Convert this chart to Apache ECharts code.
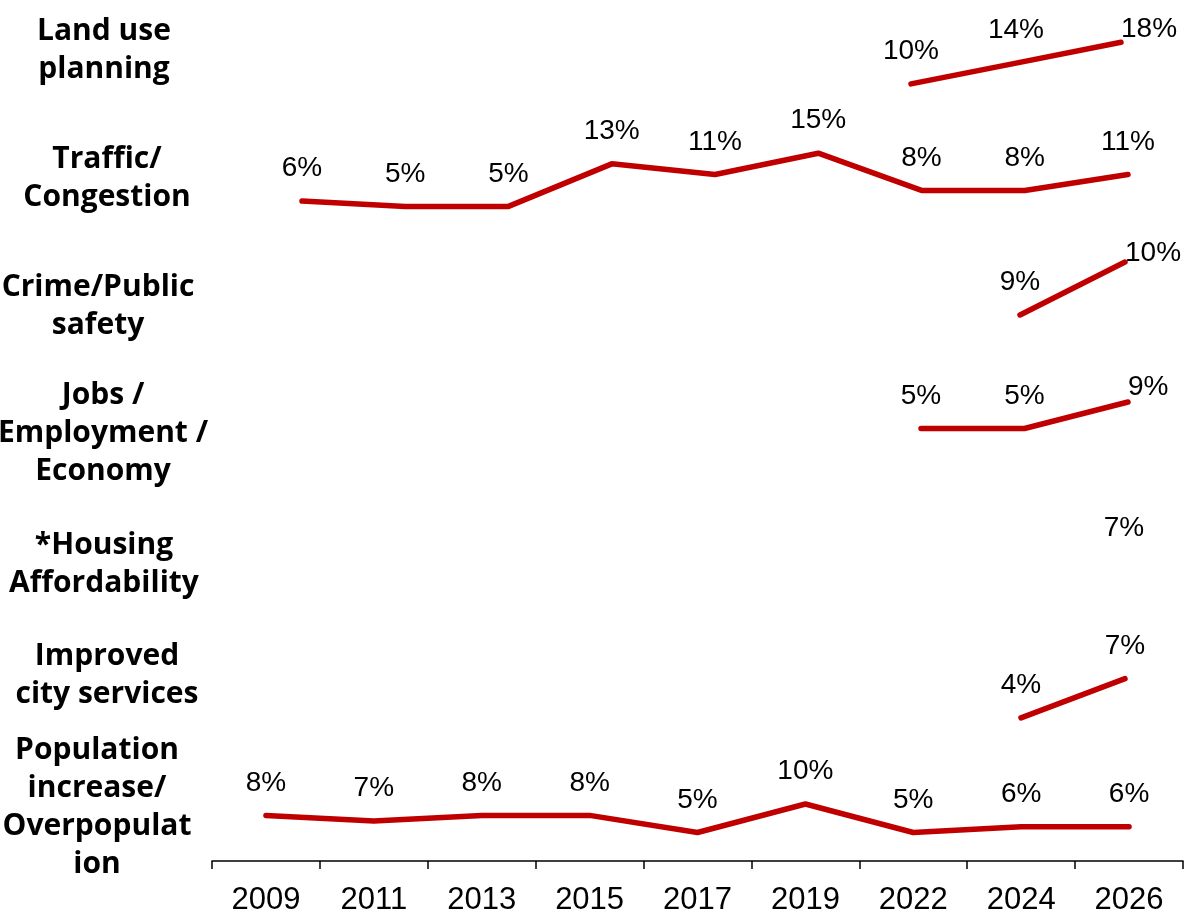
<!DOCTYPE html>
<html>
<head>
<meta charset="utf-8">
<title>Most important issues over time</title>
<script src="https://cdn.jsdelivr.net/npm/echarts@6/dist/echarts.min.js"></script>
<style>
  html, body { margin: 0; padding: 0; background: #fff; }
  #chart { width: 1191px; height: 916px; }
</style>
</head>
<body>
<div id="chart"></div>
<script>
// Survey years shown on the shared bottom axis
const years = ['2009', '2011', '2013', '2015', '2017', '2019', '2022', '2024', '2026'];

// Share of mentions (%) per issue; null where the issue was not asked
const landUse    = [null, null, null, null, null, null, 10, 14, 18];
const traffic    = [6, 5, 5, 13, 11, 15, 8, 8, 11];
const crime      = [null, null, null, null, null, null, null, 9, 10];
const jobs       = [null, null, null, null, null, null, 5, 5, 9];
const housing    = [null, null, null, null, null, null, null, null, 7];
const improved   = [null, null, null, null, null, null, null, 4, 7];
const population = [8, 7, 8, 8, 5, 10, 5, 6, 6];

// Row captions (left column)
const rowNames = [
  'Land use\nplanning',
  'Traffic/\nCongestion',
  'Crime/Public\nsafety',
  'Jobs /\nEmployment /\nEconomy',
  '*Housing\nAffordability',
  'Improved\ncity services',
  'Population\nincrease/\nOverpopulat\nion'
];

const seriesData = [landUse, traffic, crime, jobs, housing, improved, population];

// Each row is its own little panel with its own value scale
const panels = [
  { grid: { left: 281, right: 70, top: 11,    height: 125 }, yMin: 0,   yMax: 24,   cap: [104, 50.5] },
  { grid: { left: 302, right: 63, top: 100,   height: 133 }, yMin: 0,   yMax: 25,   cap: [107, 178] },
  { grid: { left: 285, right: 66, top: 235.5, height: 106 }, yMin: 8.5, yMax: 10.5, cap: [98, 306] },
  { grid: { left: 300, right: 63, top: 369,   height: 92.5 }, yMin: 0,  yMax: 14,   cap: [103, 433] },
  { grid: { left: 292, right: 67, top: 505,   height: 126 }, yMin: 0,   yMax: 12.6, cap: [104, 564] },
  { grid: { left: 293, right: 66, top: 620,   height: 150 }, yMin: 0,   yMax: 11.5, cap: [107, 675] },
  { grid: { left: 212, right: 8,  top: 747,   height: 116 }, yMin: 0,   yMax: 20,   cap: [97, 807.5], axis: true }
];

const RED = '#C00000';
const LABEL_FONT = 'Liberation Sans, Arial, sans-serif';

const grids = [], xAxes = [], yAxes = [], series = [], graphics = [];

panels.forEach(function (p, i) {
  grids.push(Object.assign({ containLabel: false }, p.grid));

  if (p.axis) {
    xAxes.push({
      gridIndex: i,
      type: 'category',
      data: years,
      boundaryGap: true,
      axisLine: { show: true, lineStyle: { color: '#000', width: 1.5 } },
      axisTick: { show: true, length: 8, lineStyle: { color: '#000', width: 1.5 } },
      axisLabel: { color: '#000', fontSize: 31, fontFamily: LABEL_FONT, margin: 24 },
      splitLine: { show: false }
    });
  } else {
    xAxes.push({
      gridIndex: i,
      type: 'category',
      data: years,
      boundaryGap: false,
      show: false
    });
  }

  yAxes.push({
    gridIndex: i,
    type: 'value',
    min: p.yMin,
    max: p.yMax,
    show: false,
    splitLine: { show: false }
  });

  // keep data labels inside the panel's top edge
  const clampTop = p.grid.top + 4;

  series.push({
    type: 'line',
    xAxisIndex: i,
    yAxisIndex: i,
    data: seriesData[i],
    connectNulls: false,
    symbol: 'circle',
    symbolSize: 1,
    showSymbol: true,
    itemStyle: { color: 'rgba(0,0,0,0)' },
    lineStyle: { color: RED, width: 5.5, cap: 'round', join: 'round' },
    label: {
      show: true,
      position: 'top',
      distance: 18,
      color: '#000',
      fontSize: 28,
      fontFamily: LABEL_FONT,
      formatter: function (d) { return d.value + '%'; }
    },
    labelLayout: function (params) {
      const r = params.labelRect;
      if (r.y < clampTop) {
        return { y: clampTop, verticalAlign: 'top' };
      }
      return {};
    },
    silent: true,
    animation: false,
    emphasis: { disabled: true }
  });

  graphics.push({
    type: 'text',
    x: p.cap[0],
    y: p.cap[1],
    silent: true,
    style: {
      text: rowNames[i],
      align: 'center',
      verticalAlign: 'middle',
      textAlign: 'center',
      textVerticalAlign: 'middle',
      font: 'bold 30px "Open Sans", sans-serif',
      lineHeight: 38,
      fill: '#000'
    }
  });
});

const chart = echarts.init(document.getElementById('chart'), null, { renderer: 'canvas' });
chart.setOption({
  backgroundColor: '#fff',
  animation: false,
  grid: grids,
  xAxis: xAxes,
  yAxis: yAxes,
  series: series,
  graphic: graphics
});
</script>
</body>
</html>
